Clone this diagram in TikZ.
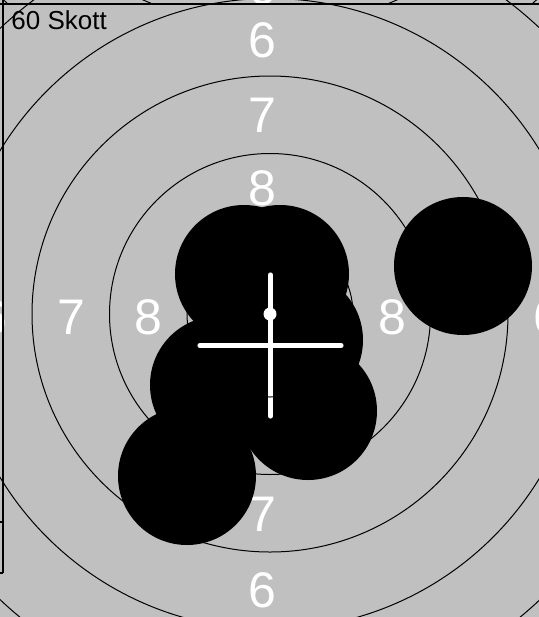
\documentclass[tikz,border=0pt]{standalone}
\usepackage{fontspec}
\newfontfamily\targetfont{Liberation Sans}
\usepackage{xcolor}
\definecolor{targetGray}{HTML}{C0C0C0}
\usepackage{tikz}
\usetikzlibrary{positioning}
\tikzset{
  ring/.style={draw=black,line width=0.5pt},
  shot/.style={fill=black},
  crossbar/.style={draw=white,line width=2.6pt,line cap=round},
  ringnum/.style={font=\targetfont\fontsize{25}{30}\selectfont,text=white,inner sep=0pt},
  scorelabel/.style={font=\targetfont\fontsize{13}{15}\selectfont,text=black,inner sep=0pt,anchor=north west},
  framerule/.style={draw=black,line width=0.8pt},
}

\begin{document}
\begin{tikzpicture}[x=0.5pt,y=-0.5pt]
  \useasboundingbox (0,0) rectangle (539,617);
  \fill[targetGray] (0,0) rectangle (539,617);
  % edge of the previous target
  \begin{scope}
    \clip (0,0) rectangle (539,4);
    \draw[ring] (270,-289) circle (315.5);
    \draw[ring] (270,-289) circle (393);
    \node[ringnum] (prevSix) at (262,-13) {6};
  \end{scope}
  \coordinate (centre) at (270,314);
  % ring numbers
  \node[ringnum] (sixTop) at (262,40) {6};
  \node[ringnum] (sevenTop) at (262,115) {7};
  \node[ringnum] (eightTop) at (262,188) {8};
  \node[ringnum] (sevenBottom) at (262,514) {7};
  \node[ringnum] (sixBottom) at (262,590) {6};
  \node[ringnum] (sixLeft) at (-7,317) {6};
  \node[ringnum] (sevenLeft) at (71,317) {7};
  \node[ringnum] (eightLeft) at (148,317) {8};
  \node[ringnum] (eightRight) at (392,317) {8};
  \node[ringnum] (sixRight) at (547,317) {6};
  % hits
  \fill[shot] (244,274) circle (69);
  \fill[shot] (280,274) circle (69);
  \fill[shot] (294,340) circle (69);
  \fill[shot] (219,385) circle (69);
  \fill[shot] (308,411) circle (69);
  \fill[shot] (187,476) circle (69);
  \fill[shot] (463,266) circle (69);
  % mean point of impact
  \coordinate (mpi) at (270.5,345.5);
  \draw[crossbar] ([xshift=-35.25pt]mpi) -- ([xshift=35.25pt]mpi);
  \draw[crossbar] ([yshift=35.25pt]mpi) -- ([yshift=-35.25pt]mpi);
  \fill[white] (centre) circle (6.5);
  % rings
  \draw[ring] (centre) circle (83);
  \draw[ring] (centre) circle (160.5);
  \draw[ring] (centre) circle (238);
  \draw[ring] (centre) circle (315.5);
  \draw[ring] (centre) circle (393);
  % frame
  \draw[framerule] (0,4) -- (539,4);
  \draw[framerule] (3,0) -- (3,573);
  \draw[framerule] (0,522) -- (3,522);
  \draw[framerule] (0,573) -- (3,573);
  \node[scorelabel] (shotCount) at (11,10) {60 Skott};
\end{tikzpicture}
\end{document}
